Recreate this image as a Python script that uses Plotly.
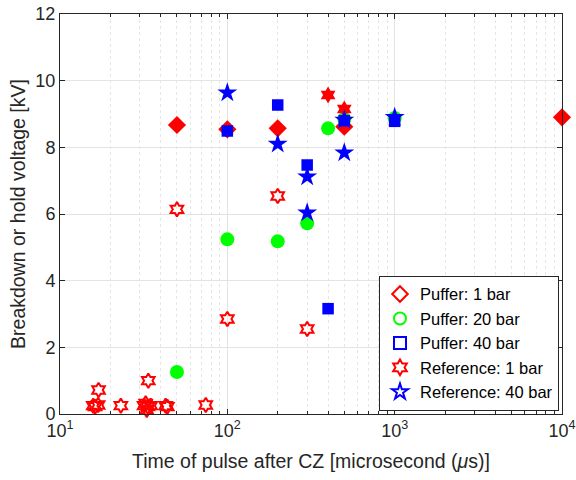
import plotly.graph_objects as go

# Puffer: 1 bar (red diamonds)
p1_x = [50, 100, 200, 500, 10000]
p1_y = [8.67, 8.54, 8.57, 8.62, 8.9]
# Puffer: 20 bar (green circles)
p20_x = [50, 100, 200, 300, 400, 500, 1000]
p20_y = [1.26, 5.24, 5.18, 5.72, 8.57, 8.85, 8.88]
# Puffer: 40 bar (blue squares)
p40_x = [100, 200, 300, 400, 500, 1000]
p40_y = [8.49, 9.27, 7.47, 3.16, 8.8, 8.78]
# Reference: 1 bar (red hexagrams, open)
r1_x = [15.8, 16.2, 16.9, 17.0, 23.1, 31.8, 32.5, 33.0, 33.5, 34.8, 33.7, 42.8, 43.8, 74.3, 50, 100, 200, 300]
r1_y = [0.25, 0.22, 0.27, 0.72, 0.25, 0.25, 0.32, 0.12, 0.22, 0.25, 1.0, 0.25, 0.22, 0.27, 6.14, 2.85, 6.54, 2.55]
# Reference: 1 bar (filled hexagrams)
r1f_x = [400, 500]
r1f_y = [9.57, 9.15]
# Reference: 40 bar (blue stars)
r40_x = [100, 200, 300, 300, 500, 500, 1000]
r40_y = [9.64, 8.1, 7.12, 6.04, 8.82, 7.84, 8.9]

tickvals_x = [10, 100, 1000, 10000]
ticktext_x = ["10<sup>1</sup>", "10<sup>2</sup>", "10<sup>3</sup>", "10<sup>4</sup>"]

RED, GREEN, BLUE = "#FF0000", "#00FF00", "#0000FF"
FONT = "Liberation Sans, Arial, sans-serif"

fig = go.Figure()

def data_trace(x, y, sym, color, size, lw=0):
    fig.add_trace(go.Scatter(
        x=x, y=y, mode="markers", showlegend=False, cliponaxis=False,
        marker=dict(symbol=sym, color=color, size=size,
                    line=dict(color=color, width=lw))))

data_trace(p1_x, p1_y, "diamond", RED, 14)
data_trace(p20_x, p20_y, "circle", GREEN, 14)
data_trace(p40_x, p40_y, "square", BLUE, 11.5)
data_trace(r1_x, r1_y, "hexagram-open", RED, 11, 2)
data_trace(r1f_x, r1f_y, "hexagram", RED, 13)
data_trace(r40_x, r40_y, "star", BLUE, 15)

def legend_trace(name, sym, color, size):
    fig.add_trace(go.Scatter(
        x=[None], y=[None], mode="markers", name=name,
        marker=dict(symbol=sym, color=color, size=size,
                    line=dict(color=color, width=2))))

legend_trace("Puffer: 1 bar", "diamond-open", RED, 14)
legend_trace("Puffer: 20 bar", "circle-open", GREEN, 12)
legend_trace("Puffer: 40 bar", "square-open", BLUE, 11)
legend_trace("Reference: 1 bar", "hexagram-open", RED, 12)
legend_trace("Reference: 40 bar", "star-open", BLUE, 14)

axcol = "#262626"
fig.update_layout(
    width=576, height=480,
    margin=dict(l=60, r=14, t=14, b=66),
    paper_bgcolor="white", plot_bgcolor="white",
    font=dict(family=FONT, color=axcol, size=17),
    legend=dict(x=0.994, y=0.008, xanchor="right", yanchor="bottom",
                bgcolor="white", bordercolor=axcol, borderwidth=1,
                font=dict(size=16.5, color="black"), itemsizing="constant",
                tracegroupgap=0, itemwidth=30),
)
fig.update_xaxes(
    type="log", range=[1, 4], automargin=False,
    tickvals=tickvals_x, ticktext=ticktext_x,
    ticks="inside", ticklen=5, tickcolor=axcol,
    showline=True, linecolor=axcol, linewidth=1, mirror="ticks",
    showgrid=True, gridcolor="#E3E3E3", gridwidth=1,
    tickfont=dict(size=18, color=axcol),
    minor=dict(ticks="inside", ticklen=3, tickcolor=axcol, showgrid=True,
               gridcolor="#E6E6E6", griddash="dot", dtick="D1"),
    title=dict(text="Time of pulse after CZ [microsecond (<i>μ</i>s)]",
               font=dict(size=19.5, color=axcol), standoff=14),
    zeroline=False,
)
fig.update_yaxes(
    range=[0, 12], dtick=2, automargin=False,
    ticks="inside", ticklen=5, tickcolor=axcol,
    showline=True, linecolor=axcol, linewidth=1, mirror="ticks",
    showgrid=True, gridcolor="#E3E3E3", gridwidth=1,
    tickfont=dict(size=18, color=axcol),
    title=dict(text="Breakdown or hold voltage [kV]",
               font=dict(size=19.5, color=axcol), standoff=4),
    zeroline=False,
)

fig.write_html("out.html", config={"displayModeBar": False},
               post_script="document.body.style.margin='0';document.body.style.overflow='hidden';")
